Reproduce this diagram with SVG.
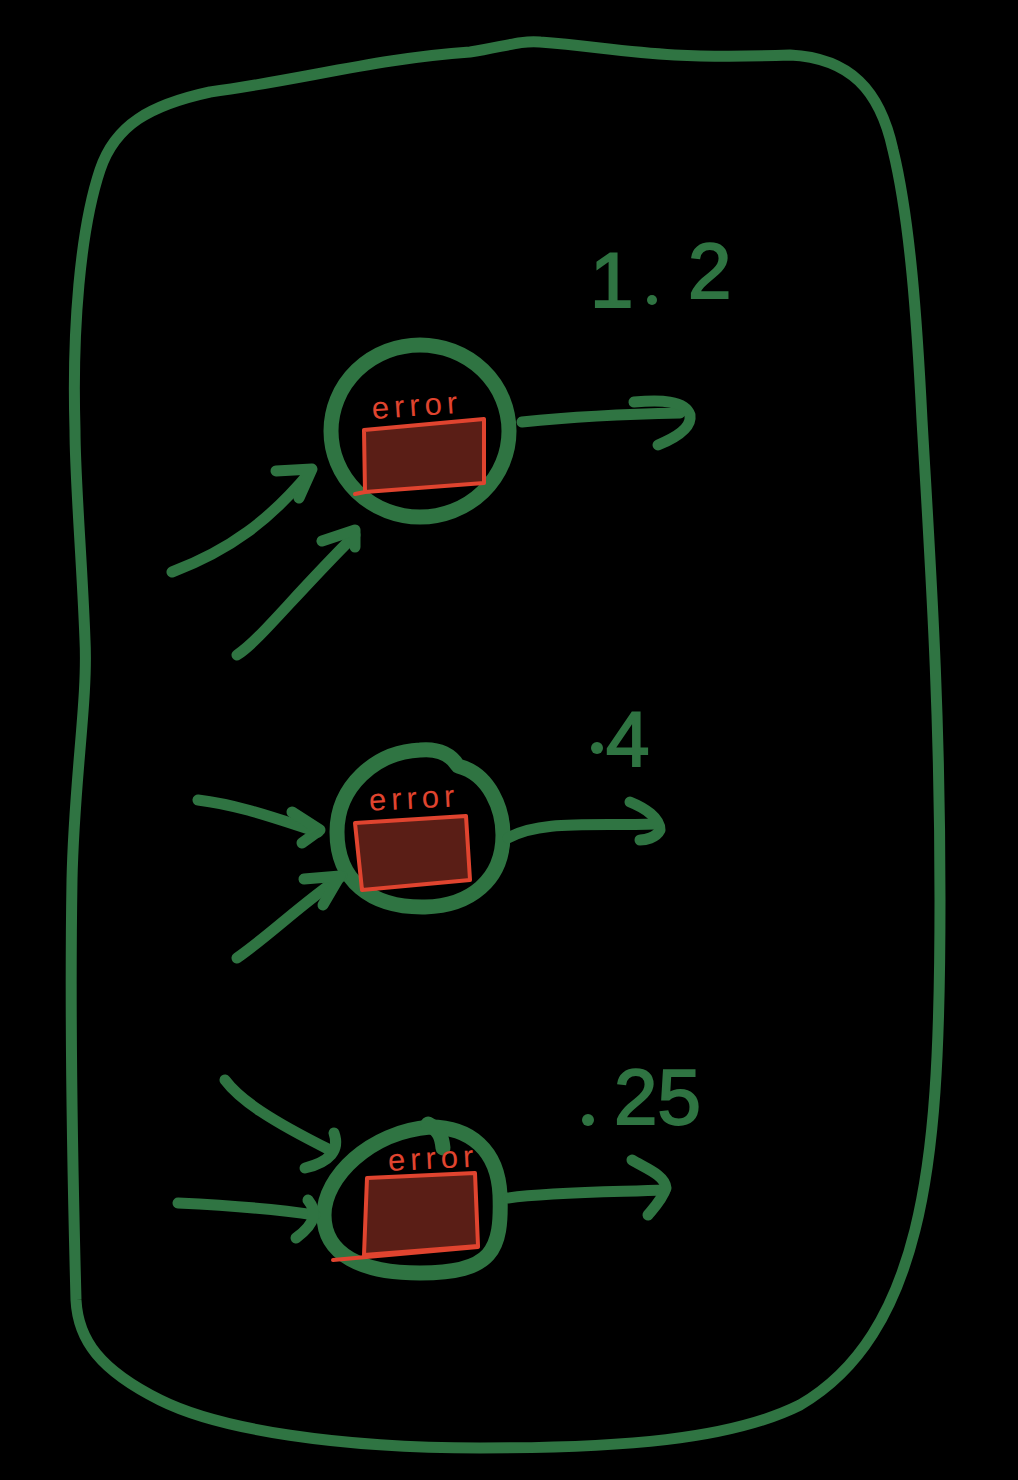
<svg xmlns="http://www.w3.org/2000/svg" width="1018" height="1480" viewBox="0 0 1018 1480">
<style>
.g{fill:none;stroke:#2f7442;stroke-width:11;stroke-linecap:round;stroke-linejoin:round}
.n{fill:none;stroke:#2f7442;stroke-width:15;stroke-linecap:round;stroke-linejoin:round}
.c{fill:none;stroke:#2f7442;stroke-width:11;stroke-linecap:round;stroke-linejoin:round}
.box{fill:#5a1e16;stroke:#e0442f;stroke-width:4;stroke-linejoin:round;stroke-linecap:round}
.err{fill:#e0442f;font-family:"Liberation Sans",sans-serif;font-size:31px;letter-spacing:5px}
.num{fill:#2f7442;font-family:"Liberation Sans",sans-serif;font-size:78px;stroke:#2f7442;stroke-width:2}
</style>
<rect width="1018" height="1480" fill="#000"/>
<g id="frame">
<path class="g" d="M540,42 C620,48 650,60 790,55 C850,58 880,90 893,150 C910,220 917,320 922,420 C930,560 940,700 940,900 C940,1050 935,1150 915,1230 C895,1310 860,1370 800,1405 C730,1440 620,1448 480,1448 C340,1448 220,1430 160,1400 C100,1370 78,1340 76,1300 C72,1150 70,1000 72,880 C74,780 88,700 85,640 C82,560 75,480 75,430 C72,330 80,230 100,170 C115,125 150,105 210,92 C300,80 380,58 470,52 C500,48 520,40 540,42"/>
</g>
<g id="node1">
<ellipse class="n" cx="420" cy="431" rx="89" ry="86"/>
<path class="box" d="M364,430 L484,419 L484,483 L365,492 Z"/>
<path class="box" d="M355,494 L365,492" />
<text class="err" x="372" y="416" transform="rotate(-4 415 410)">error</text>
</g>
<g id="node2">
<path class="n" d="M420,750 C440,748 452,756 458,766 C490,774 503,810 503,835 C503,880 470,906 425,907 C370,908 337,880 337,832 C337,787 375,752 420,750 Z"/>
<path class="box" d="M355,823 L466,816 L470,880 L362,890 Z"/>
<text class="err" x="369" y="809" transform="rotate(-3 405 802)">error</text>
</g>
<g id="node3">
<path class="n" d="M430,1127 C470,1127 498,1150 500,1195 C502,1250 493,1273 420,1273 C362,1273 324,1255 324,1215 C324,1177 370,1132 430,1127 Z"/>
<path class="n" d="M428,1124 C440,1130 442,1138 443,1148"/>
<path class="box" d="M367,1178 L475,1173 L478,1246 L364,1255 Z"/>
<path class="box" d="M333,1260 L478,1247"/>
<text class="err" x="388" y="1169" transform="rotate(-3 428 1160)">error</text>
</g>
<g id="labels">
<text class="num" x="590" y="307">1</text>
<circle cx="652" cy="300" r="5" fill="#2f7442"/>
<text class="num" x="688" y="298">2</text>
<circle cx="597" cy="748" r="6" fill="#2f7442"/>
<text class="num" x="606" y="766" font-size="100">4</text>
<circle cx="588" cy="1120" r="6" fill="#2f7442"/>
<text class="num" x="614" y="1124" font-size="82">25</text>
</g>
<g id="connectors">
<path class="c" d="M172,572 C230,550 270,520 310,472"/>
<path class="c" d="M276,471 L312,469 L299,498"/>
<path class="c" d="M237,655 C260,640 290,600 355,535"/>
<path class="c" d="M322,541 L355,530 L355,547"/>
<path class="c" d="M522,422 C580,416 630,414 680,413"/>
<path class="c" d="M634,402 C660,400 685,400 690,415 C692,428 675,438 658,445"/>
<path class="c" d="M198,800 C240,805 280,820 318,832"/>
<path class="c" d="M292,812 L320,830 L302,843"/>
<path class="c" d="M237,958 C270,935 300,905 342,876"/>
<path class="c" d="M304,879 L340,876 L323,905"/>
<path class="c" d="M508,838 C540,820 590,826 655,824"/>
<path class="c" d="M630,802 C645,808 660,818 660,830 C656,838 645,840 640,840"/>
<path class="c" d="M225,1080 C240,1100 270,1120 330,1150"/>
<path class="c" d="M334,1133 C340,1150 330,1162 305,1168"/>
<path class="c" d="M178,1203 C220,1205 270,1208 315,1215"/>
<path class="c" d="M308,1200 C316,1210 318,1222 296,1238"/>
<path class="c" d="M508,1198 C550,1192 610,1192 665,1190"/>
<path class="c" d="M632,1160 C645,1168 665,1175 666,1188 C662,1200 652,1210 648,1215"/>
</g>
</svg>
